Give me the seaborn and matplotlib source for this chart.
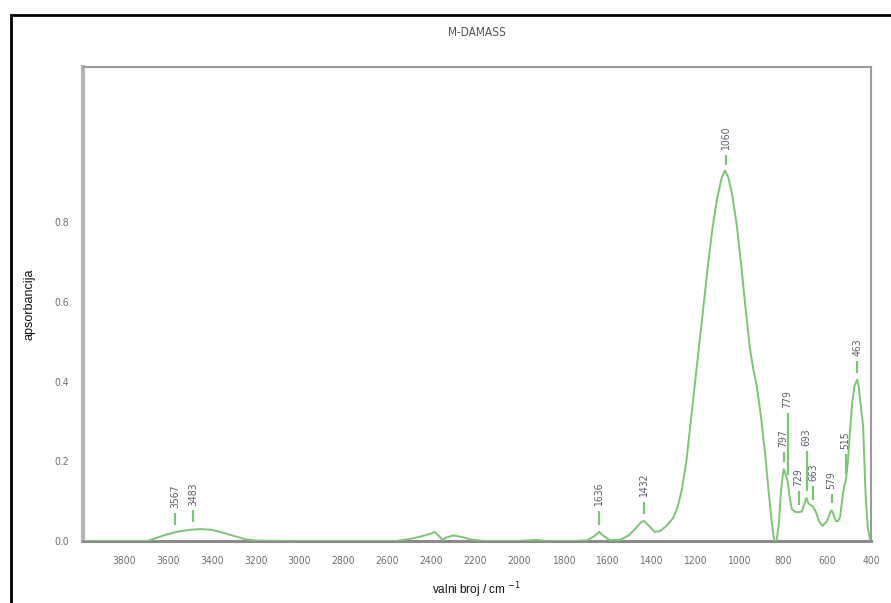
import numpy as np
import pandas as pd
import matplotlib
matplotlib.use("Agg")
import matplotlib.pyplot as plt
import seaborn as sns

# ---------------------------
# spectrum
# ---------------------------
wavenumber = [3985, 3900, 3800, 3690, 3650, 3600, 3550, 3500, 3450, 3400,
              3350, 3300, 3250, 3200, 3000, 2800, 2560, 2500, 2450, 2400,
              2385, 2365, 2350, 2330, 2300, 2260, 2220, 2180, 2150, 2000,
              1920, 1880, 1750, 1690, 1660, 1636, 1615, 1590, 1540, 1500,
              1470, 1445, 1432, 1410, 1385, 1360, 1330, 1300, 1280, 1260,
              1240, 1220, 1200, 1180, 1160, 1140, 1120, 1100, 1080, 1065,
              1050, 1030, 1010, 990, 970, 950, 935, 920, 900, 880,
              865, 850, 840, 830, 820, 810, 800, 797, 790, 780,
              770, 760, 745, 730, 715, 700, 693, 685, 675, 663,
              650, 635, 620, 600, 585, 579, 570, 560, 550, 540,
              530, 520, 515, 505, 495, 485, 475, 463, 455, 445,
              436, 425, 415, 405, 400]
absorbance = [0.0, 0.0, 0.0, 0.0, 0.008, 0.017, 0.024, 0.028, 0.03, 0.028,
              0.021, 0.013, 0.005, 0.001, 0.0, 0.0, 0.0, 0.005, 0.011, 0.019,
              0.023, 0.012, 0.003, 0.009, 0.014, 0.01, 0.004, 0.001, 0.0, 0.0,
              0.003, 0.0, 0.0, 0.002, 0.012, 0.023, 0.012, 0.002, 0.003, 0.015,
              0.032, 0.048, 0.05, 0.038, 0.023, 0.025, 0.038, 0.058, 0.085, 0.13,
              0.2, 0.3, 0.4, 0.5, 0.6, 0.7, 0.79, 0.86, 0.91, 0.93,
              0.915, 0.865, 0.79, 0.69, 0.58, 0.48, 0.43, 0.39, 0.31, 0.21,
              0.12, 0.04, 0.0, 0.0, 0.04, 0.12, 0.172, 0.18, 0.17, 0.152,
              0.11, 0.08, 0.073, 0.072, 0.074, 0.098, 0.108, 0.095, 0.09, 0.086,
              0.072, 0.048, 0.038, 0.05, 0.072, 0.077, 0.066, 0.05, 0.05, 0.062,
              0.11, 0.143, 0.15, 0.2, 0.28, 0.35, 0.39, 0.405, 0.385, 0.33,
              0.29, 0.12, 0.035, 0.005, 0.0]

# peak labels and the length of their little marker lines
peak_labels = [3567, 3483, 1636, 1432, 1060, 797, 779, 729, 693, 663, 579, 515, 463]
mark_len = [0.03, 0.03, 0.035, 0.03, 0.026, 0.025, 0.155, 0.035, 0.10, 0.035, 0.023, 0.05, 0.03]

x_ticks = [3800, 3600, 3400, 3200, 3000, 2800, 2600, 2400, 2200, 2000,
           1800, 1600, 1400, 1200, 1000, 800, 600, 400]
y_ticks = [0.0, 0.2, 0.4, 0.6, 0.8]

df = pd.DataFrame({"wavenumber": wavenumber, "absorbance": absorbance})

# ---------------------------
# figure
# ---------------------------
sns.set_style("white")
plt.rcParams["font.family"] = ["Liberation Sans", "DejaVu Sans"]
narrow = dict(family="DejaVu Sans", stretch="condensed")

green = "#7cc673"
grey_txt = "#6f6f78"

fig = plt.figure(figsize=(8.91, 6.03), dpi=100)
ax = fig.add_axes([83 / 891, 1 - 541 / 603, (871 - 83) / 891, (541 - 67) / 603])

sns.lineplot(data=df, x="wavenumber", y="absorbance", sort=False,
             color=green, linewidth=1.4, ax=ax, zorder=3)

ax.set_xlim(3985, 400)
ax.set_ylim(0, 1.19)

# peak markers + rotated labels
x_arr = np.array(wavenumber)[::-1]
y_arr = np.array(absorbance)[::-1]
for w, ln in zip(peak_labels, mark_len):
    base = np.interp(w, x_arr, y_arr)
    lo = base + 0.018
    hi = lo + ln
    ax.vlines(w, lo, hi, color=green, linewidth=1.6)
    ax.text(w, hi + 0.012, str(w), rotation=90, ha="center", va="bottom",
            fontsize=7.5, color="#5a5f6a", **narrow)

ax.set_xticks(x_ticks)
ax.set_yticks(y_ticks)
ax.set_xticklabels([str(t) for t in x_ticks], fontsize=7.5, color=grey_txt, **narrow)
ax.set_yticklabels([f"{t:.1f}" for t in y_ticks], fontsize=7.5, color=grey_txt, **narrow)
ax.tick_params(axis="x", direction="inout", length=6, width=1, color="#777777", pad=8)
ax.tick_params(axis="y", direction="out", length=4, width=1, color="#999999", pad=6)

ax.set_xlabel("valni broj / cm $^{-1}$", fontsize=8.5, color="#111111", labelpad=10)
ax.set_ylabel("apsorbancija", fontsize=9, color="#111111", labelpad=14)
ax.set_title("M-DAMASS", fontsize=8.5, color="#555555", pad=22, **narrow)

for side in ["top", "right"]:
    ax.spines[side].set_color("#9a9a9a")
    ax.spines[side].set_linewidth(1.5)
ax.spines["left"].set_color("#b5b5b5")
ax.spines["left"].set_linewidth(3)
ax.spines["bottom"].set_color("#8a8a8a")
ax.spines["bottom"].set_linewidth(2.2)

# outer black frame (runs off the right and bottom edges)
frame = plt.Rectangle((11 / 891, -0.05), 1.2, 1.05 - 15 / 603,
                      transform=fig.transFigure, fill=False,
                      edgecolor="black", linewidth=2, clip_on=False)
fig.patches.append(frame)

fig.savefig("out.png", dpi=100)
